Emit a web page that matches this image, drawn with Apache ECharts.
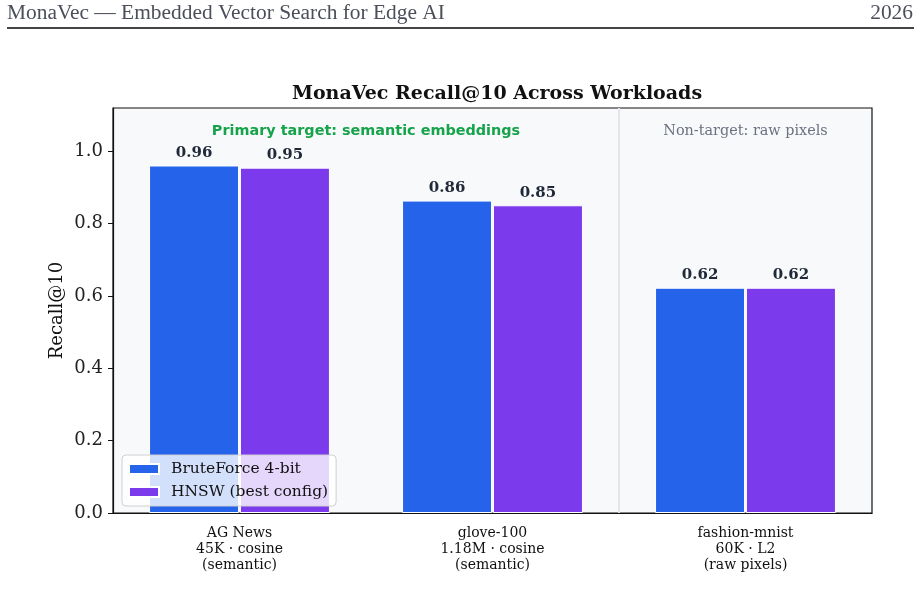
<!DOCTYPE html>
<html>
<head>
<meta charset="utf-8">
<script src="https://cdn.jsdelivr.net/npm/echarts@6/dist/echarts.min.js"></script>
<style>
  html, body { margin: 0; padding: 0; background: #fff; }
  #main { width: 921px; height: 601px; }
</style>
</head>
<body>
<div id="main"></div>
<script>
// data
var categories = ['AG News\n45K · cosine\n(semantic)', 'glove-100\n1.18M · cosine\n(semantic)', 'fashion-mnist\n60K · L2\n(raw pixels)'];
var bruteForce = [0.961, 0.864, 0.623];
var hnsw = [0.955, 0.851, 0.623];
var yTicks = [0, 0.2, 0.4, 0.6, 0.8, 1.0];

var serif = 'DejaVu Serif';
var chart = echarts.init(document.getElementById('main'));

function valueLabel() {
    return {
        show: true,
        position: 'top',
        distance: 5,
        fontFamily: serif,
        fontWeight: 'bold',
        fontSize: 15,
        color: '#1f2937',
        formatter: function (p) { return p.value.toFixed(2); }
    };
}

var option = {
    backgroundColor: '#fff',
    animation: false,
    title: {
        text: 'MonaVec Recall@10 Across Workloads',
        left: 492,
        textAlign: 'center',
        top: 80,
        textStyle: { fontFamily: serif, fontWeight: 'bold', fontSize: 19, color: '#111' }
    },
    grid: {
        left: 113, right: 49, top: 108, bottom: 88,
        show: true,
        backgroundColor: '#f8f9fb',
        borderColor: '#111',
        borderWidth: 1.2
    },
    legend: {
        orient: 'vertical',
        left: 122,
        top: 455,
        padding: [6, 8, 6, 6],
        itemGap: 7,
        itemWidth: 30,
        itemHeight: 10,
        icon: 'rect',
        backgroundColor: 'rgba(255,255,255,0.8)',
        borderColor: '#d0d0d0',
        borderWidth: 1,
        borderRadius: 4,
        textStyle: { fontFamily: serif, fontSize: 15.5, color: '#111', padding: [0, 0, 0, 7] },
        data: ['BruteForce 4-bit', 'HNSW (best config)']
    },
    xAxis: [{
        type: 'category',
        data: categories,
        axisLine: { lineStyle: { color: '#111', width: 1.2 } },
        axisTick: { alignWithLabel: true, length: 5, lineStyle: { color: '#111' } },
        axisLabel: { fontFamily: serif, fontSize: 14, lineHeight: 16, color: '#111', margin: 12 }
    }, {
        type: 'value',
        min: -0.5, max: 2.5,
        show: false
    }],
    yAxis: {
        type: 'value',
        min: 0, max: 1.12,
        name: 'Recall@10',
        nameLocation: 'middle',
        nameGap: 47,
        nameMoveOverlap: false,
        nameTextStyle: { fontFamily: serif, fontSize: 18, color: '#111' },
        splitLine: { show: false },
        axisLine: { show: true, onZero: false, lineStyle: { color: '#111', width: 1.2 } },
        axisTick: { show: true, length: 5, customValues: yTicks, lineStyle: { color: '#111' } },
        axisLabel: {
            customValues: yTicks,
            fontFamily: serif, fontSize: 18, color: '#222', margin: 10,
            formatter: function (v) { return v.toFixed(1); }
        }
    },
    series: [{
        name: 'BruteForce 4-bit',
        type: 'bar',
        data: bruteForce,
        barWidth: 90,
        barGap: '1%',
        itemStyle: { color: '#2563eb', borderColor: '#fff', borderWidth: 1 },
        label: valueLabel()
    }, {
        name: 'HNSW (best config)',
        type: 'bar',
        data: hnsw,
        barWidth: 90,
        barGap: '1%',
        itemStyle: { color: '#7c3aed', borderColor: '#fff', borderWidth: 1 },
        label: valueLabel()
    }, {
        // separator between semantic and raw-pixel workloads
        type: 'line',
        xAxisIndex: 1,
        data: [],
        markLine: {
            silent: true,
            symbol: 'none',
            label: { show: false },
            lineStyle: { color: '#e3e5e8', width: 2, type: 'solid' },
            data: [{ xAxis: 1.5 }]
        }
    }],
    graphic: [{
        id: 'header',
        type: 'text',
        x: 7, y: 4,
        scaleX: 1.07,
        style: { text: 'MonaVec — Embedded Vector Search for Edge AI', font: '20px "Liberation Serif"', fill: '#4b4f5a', verticalAlign: 'top' }
    }, {
        id: 'year',
        type: 'text',
        x: 913, y: 4,
        scaleX: 1.07,
        style: { text: '2026', font: '20px "Liberation Serif"', fill: '#4b4f5a', align: 'right', verticalAlign: 'top' }
    }, {
        id: 'rule',
        type: 'line',
        shape: { x1: 7, y1: 28, x2: 914, y2: 28 },
        style: { stroke: '#444', lineWidth: 2 }
    }]
};
chart.setOption(option);

// region notes placed through the axes
var p1 = chart.convertToPixel({ xAxisIndex: 1, yAxisIndex: 0 }, [0.5, 1.055]);
var p2 = chart.convertToPixel({ xAxisIndex: 1, yAxisIndex: 0 }, [2.0, 1.055]);
chart.setOption({
    graphic: [{
        id: 'notePrimary',
        type: 'text', x: p1[0], y: p1[1],
        style: {
            text: 'Primary target: semantic embeddings', align: 'center', verticalAlign: 'middle',
            font: 'bold 14.4px "DejaVu Sans"', fill: '#16a34a'
        }
    }, {
        id: 'noteOther',
        type: 'text', x: p2[0], y: p2[1],
        style: {
            text: 'Non-target: raw pixels', align: 'center', verticalAlign: 'middle',
            font: '14.4px "DejaVu Serif"', fill: '#6b7280'
        }
    }]
});
</script>
</body>
</html>
